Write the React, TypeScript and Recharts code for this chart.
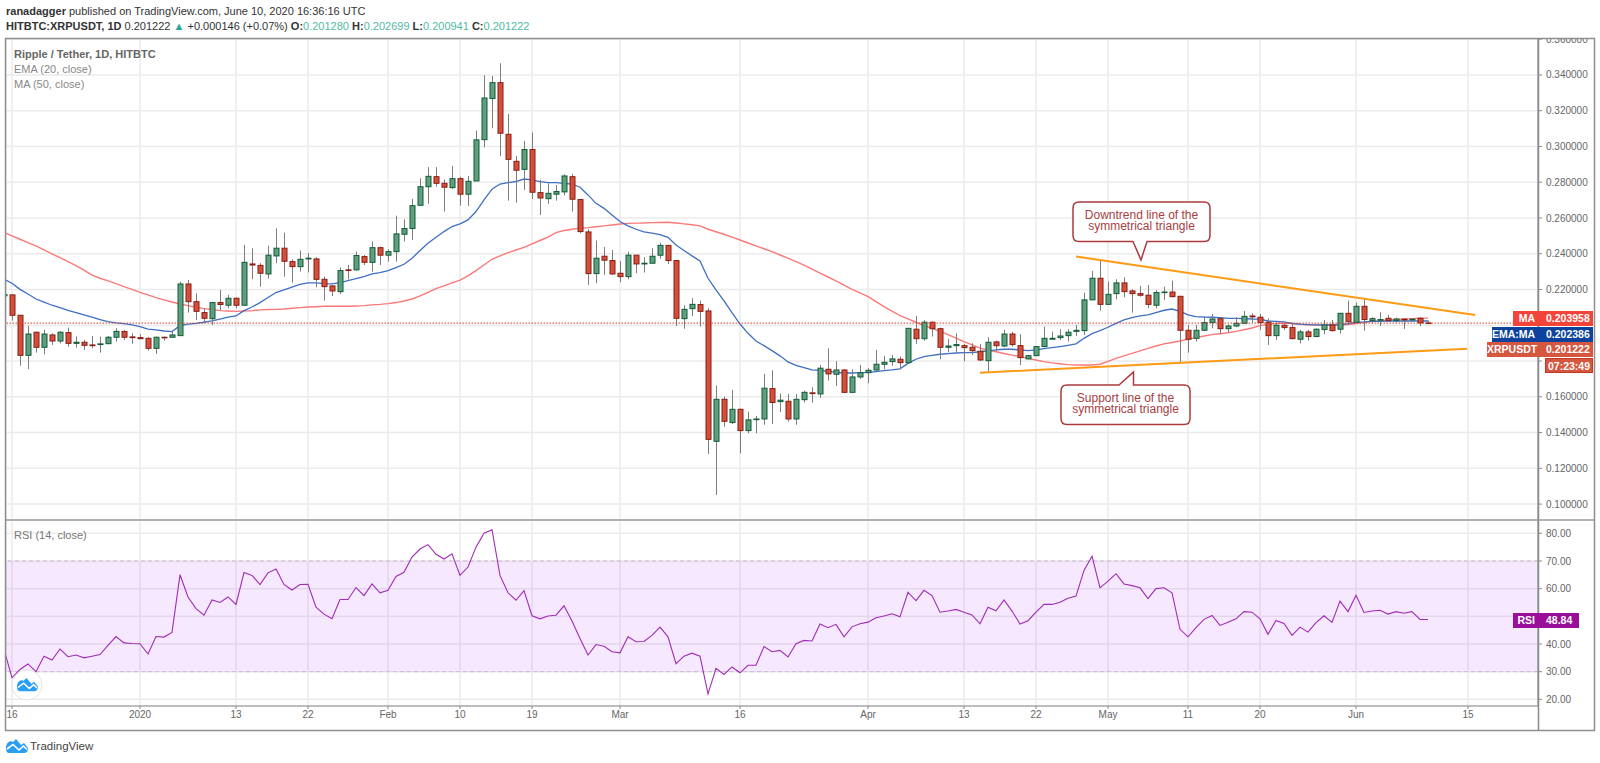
import {
  ComposedChart,
  Bar,
  Line,
  XAxis,
  YAxis,
  CartesianGrid,
  ReferenceLine,
  ReferenceArea,
} from 'recharts';

// day index: 0 = 16 Dec 2019, one row per daily candle, first row is the clipped 15 Dec one
const FIRST_DAY = -1;

const opens = [
  0.2165,
  0.2170, 0.2056, 0.1832, 0.1961, 0.1877, 0.1946, 0.1912, 0.1959, 0.1899, 0.1905,
  0.1890, 0.1892, 0.1897, 0.1933, 0.1965, 0.1935, 0.1931, 0.1927, 0.1871, 0.1933,
  0.1933, 0.1942, 0.2231, 0.2132, 0.2071, 0.2037, 0.2127, 0.2112, 0.2151, 0.2112,
  0.2343, 0.2335, 0.2287, 0.2388, 0.2431, 0.2356, 0.2328, 0.2371, 0.2371, 0.2257,
  0.2220, 0.2188, 0.2310, 0.2310, 0.2384, 0.2352, 0.2434, 0.2392, 0.2412, 0.2509,
  0.2541, 0.2671, 0.2775, 0.2831, 0.2794, 0.2770, 0.2820, 0.2733, 0.2807, 0.3038,
  0.3268, 0.3357, 0.3068, 0.2917, 0.2872, 0.2983, 0.2742, 0.2708, 0.2733, 0.2746,
  0.2831, 0.2703, 0.2522, 0.2289, 0.2386, 0.2362, 0.2291, 0.2272, 0.2392, 0.2343,
  0.2347, 0.2392, 0.2447, 0.2362, 0.2037, 0.2093, 0.2116, 0.2080, 0.1351, 0.1586,
  0.1456, 0.1530, 0.1411, 0.1472, 0.1476, 0.1646, 0.1573, 0.1575, 0.1476, 0.1584,
  0.1622, 0.1616, 0.1754, 0.1726, 0.1750, 0.1625, 0.1711, 0.1735, 0.1750, 0.1782,
  0.1797, 0.1810, 0.1791, 0.1978, 0.1925, 0.2017, 0.1981, 0.1877, 0.1886, 0.1886,
  0.1877, 0.1855, 0.1802, 0.1907, 0.1884, 0.1951, 0.1886, 0.1812, 0.1830, 0.1881,
  0.1922, 0.1931, 0.1942, 0.1966, 0.1970, 0.2142, 0.2263, 0.2117, 0.2177, 0.2237,
  0.2192, 0.2177, 0.2168, 0.2112, 0.2183, 0.2186, 0.2162, 0.1972, 0.1927, 0.1972,
  0.2015, 0.2037, 0.1981, 0.1996, 0.2011, 0.2052, 0.2045, 0.2017, 0.1942, 0.2000,
  0.1987, 0.1922, 0.1963, 0.1937, 0.1976, 0.2002, 0.1978, 0.2067, 0.2017, 0.2106,
  0.2026, 0.2028, 0.2039, 0.2026, 0.2034, 0.2030, 0.2039, 0.2013,
];

const highs = [
  0.2185,
  0.2172, 0.2056, 0.1996, 0.1965, 0.1974, 0.1955, 0.1968, 0.1987, 0.1937, 0.1918,
  0.1940, 0.1937, 0.1940, 0.1983, 0.1974, 0.1955, 0.1950, 0.1933, 0.1937, 0.1937,
  0.1965, 0.2244, 0.2253, 0.2179, 0.2095, 0.2132, 0.2198, 0.2170, 0.2155, 0.2449,
  0.2430, 0.2347, 0.2444, 0.2542, 0.2518, 0.2369, 0.2418, 0.2403, 0.2380, 0.2272,
  0.2225, 0.2323, 0.2337, 0.2412, 0.2393, 0.2468, 0.2440, 0.2425, 0.2613, 0.2593,
  0.2707, 0.2822, 0.2884, 0.2884, 0.2816, 0.2891, 0.2831, 0.2835, 0.3089, 0.3398,
  0.3394, 0.3465, 0.3182, 0.2947, 0.3031, 0.3078, 0.2813, 0.2794, 0.2785, 0.2844,
  0.2846, 0.2706, 0.2537, 0.2474, 0.2438, 0.2421, 0.2360, 0.2412, 0.2393, 0.2380,
  0.2431, 0.2462, 0.2449, 0.2362, 0.2112, 0.2151, 0.2138, 0.2095, 0.1663, 0.1601,
  0.1638, 0.1534, 0.1517, 0.1493, 0.1728, 0.1748, 0.1618, 0.1616, 0.1616, 0.1635,
  0.1653, 0.1778, 0.1871, 0.1799, 0.1754, 0.1754, 0.1778, 0.1760, 0.1862, 0.1829,
  0.1834, 0.1825, 0.1983, 0.2052, 0.2030, 0.2021, 0.1987, 0.1924, 0.1955, 0.1896,
  0.1899, 0.1896, 0.1933, 0.1914, 0.1974, 0.1963, 0.1950, 0.1834, 0.1884, 0.1992,
  0.1965, 0.1978, 0.1978, 0.2002, 0.2183, 0.2304, 0.2362, 0.2244, 0.2257, 0.2268,
  0.2201, 0.2220, 0.2225, 0.2197, 0.2216, 0.2250, 0.2162, 0.2002, 0.2002, 0.2048,
  0.2063, 0.2045, 0.2005, 0.2045, 0.2080, 0.2067, 0.2063, 0.2039, 0.2015, 0.2011,
  0.2015, 0.1974, 0.1974, 0.1983, 0.2030, 0.2030, 0.2067, 0.2138, 0.2127, 0.2147,
  0.2045, 0.2073, 0.2058, 0.2043, 0.2037, 0.2039, 0.2045, 0.2027,
];

const lows = [
  0.2150,
  0.2026, 0.1774, 0.1754, 0.1847, 0.1838, 0.1890, 0.1899, 0.1881, 0.1875, 0.1862,
  0.1871, 0.1847, 0.1896, 0.1909, 0.1918, 0.1896, 0.1922, 0.1858, 0.1840, 0.1914,
  0.1931, 0.1942, 0.2071, 0.2030, 0.2011, 0.2002, 0.2086, 0.2095, 0.2095, 0.2112,
  0.2257, 0.2216, 0.2261, 0.2347, 0.2272, 0.2239, 0.2300, 0.2295, 0.2213, 0.2138,
  0.2164, 0.2175, 0.2257, 0.2306, 0.2337, 0.2300, 0.2337, 0.2356, 0.2356, 0.2468,
  0.2477, 0.2669, 0.2679, 0.2775, 0.2636, 0.2761, 0.2669, 0.2667, 0.2807, 0.2995,
  0.3102, 0.2947, 0.2697, 0.2686, 0.2757, 0.2705, 0.2617, 0.2679, 0.2697, 0.2727,
  0.2636, 0.2514, 0.2226, 0.2235, 0.2282, 0.2282, 0.2241, 0.2257, 0.2291, 0.2295,
  0.2347, 0.2373, 0.2343, 0.1996, 0.1981, 0.2052, 0.1993, 0.1280, 0.1051, 0.1433,
  0.1448, 0.1284, 0.1396, 0.1396, 0.1444, 0.1448, 0.1515, 0.1461, 0.1444, 0.1568,
  0.1568, 0.1594, 0.1691, 0.1661, 0.1620, 0.1620, 0.1700, 0.1676, 0.1746, 0.1754,
  0.1774, 0.1754, 0.1788, 0.1896, 0.1914, 0.1937, 0.1810, 0.1849, 0.1847, 0.1799,
  0.1834, 0.1799, 0.1735, 0.1853, 0.1877, 0.1881, 0.1778, 0.1810, 0.1828, 0.1877,
  0.1922, 0.1918, 0.1909, 0.1940, 0.1946, 0.2142, 0.2082, 0.2115, 0.2145, 0.2156,
  0.2071, 0.2160, 0.2095, 0.2095, 0.2142, 0.2156, 0.1791, 0.1847, 0.1909, 0.1968,
  0.1983, 0.1950, 0.1959, 0.1989, 0.2009, 0.2015, 0.1974, 0.1890, 0.1918, 0.1974,
  0.1922, 0.1899, 0.1914, 0.1933, 0.1950, 0.1965, 0.1955, 0.2015, 0.2015, 0.1970,
  0.2011, 0.1996, 0.2019, 0.2015, 0.1980, 0.2022, 0.1996, 0.2009,
];

const closes = [
  0.2172,
  0.2056, 0.1832, 0.1951, 0.1877, 0.1951, 0.1912, 0.1961, 0.1899, 0.1905, 0.1888,
  0.1886, 0.1896, 0.1933, 0.1966, 0.1933, 0.1931, 0.1925, 0.1871, 0.1933, 0.1931,
  0.1946, 0.2231, 0.2132, 0.2078, 0.2039, 0.2127, 0.2116, 0.2151, 0.2112, 0.2352,
  0.2337, 0.2291, 0.2392, 0.2431, 0.2358, 0.2328, 0.2369, 0.2375, 0.2257, 0.2216,
  0.2192, 0.2306, 0.2306, 0.2390, 0.2352, 0.2434, 0.2392, 0.2412, 0.2511, 0.2541,
  0.2669, 0.2775, 0.2833, 0.2794, 0.2772, 0.2820, 0.2733, 0.2805, 0.3037, 0.3271,
  0.3357, 0.3074, 0.2928, 0.2867, 0.2983, 0.2744, 0.2712, 0.2738, 0.2748, 0.2835,
  0.2705, 0.2524, 0.2289, 0.2375, 0.2364, 0.2287, 0.2272, 0.2392, 0.2343, 0.2347,
  0.2386, 0.2447, 0.2362, 0.2039, 0.2089, 0.2117, 0.2078, 0.1362, 0.1586, 0.1463,
  0.1530, 0.1411, 0.1471, 0.1476, 0.1648, 0.1568, 0.1581, 0.1476, 0.1586, 0.1625,
  0.1618, 0.1760, 0.1728, 0.1750, 0.1625, 0.1711, 0.1735, 0.1748, 0.1782, 0.1793,
  0.1812, 0.1791, 0.1983, 0.1925, 0.2017, 0.1981, 0.1877, 0.1884, 0.1892, 0.1875,
  0.1858, 0.1806, 0.1905, 0.1886, 0.1951, 0.1892, 0.1819, 0.1830, 0.1881, 0.1927,
  0.1927, 0.1940, 0.1961, 0.1972, 0.2142, 0.2263, 0.2117, 0.2173, 0.2237, 0.2188,
  0.2177, 0.2168, 0.2117, 0.2183, 0.2186, 0.2160, 0.1972, 0.1922, 0.1972, 0.2015,
  0.2035, 0.1981, 0.1996, 0.2011, 0.2050, 0.2047, 0.2015, 0.1942, 0.2000, 0.1987,
  0.1925, 0.1963, 0.1937, 0.1978, 0.2002, 0.1970, 0.2067, 0.2020, 0.2106, 0.2032,
  0.2037, 0.2032, 0.2026, 0.2035, 0.2030, 0.2034, 0.2013, 0.2012,
];

const ema20 = [
  0.2257,
  0.2235, 0.2201, 0.2175, 0.2147, 0.2129, 0.2112, 0.2099, 0.2084, 0.2071, 0.2058,
  0.2045, 0.2032, 0.2020, 0.2013, 0.2009, 0.2002, 0.1993, 0.1978, 0.1974, 0.1968,
  0.1965, 0.1998, 0.2007, 0.2011, 0.2017, 0.2024, 0.2034, 0.2045, 0.2052, 0.2082,
  0.2102, 0.2127, 0.2155, 0.2183, 0.2198, 0.2213, 0.2229, 0.2237, 0.2237, 0.2233,
  0.2231, 0.2239, 0.2250, 0.2261, 0.2272, 0.2287, 0.2295, 0.2306, 0.2323, 0.2341,
  0.2375, 0.2418, 0.2459, 0.2492, 0.2524, 0.2552, 0.2567, 0.2589, 0.2636, 0.2701,
  0.2761, 0.2790, 0.2798, 0.2804, 0.2818, 0.2813, 0.2803, 0.2798, 0.2798, 0.2794,
  0.2790, 0.2772, 0.2729, 0.2682, 0.2654, 0.2617, 0.2580, 0.2556, 0.2537, 0.2522,
  0.2515, 0.2507, 0.2492, 0.2449, 0.2418, 0.2388, 0.2360, 0.2263, 0.2198, 0.2136,
  0.2071, 0.2007, 0.1955, 0.1912, 0.1886, 0.1858, 0.1829, 0.1795, 0.1776, 0.1763,
  0.1750, 0.1748, 0.1743, 0.1737, 0.1733, 0.1733, 0.1735, 0.1737, 0.1741, 0.1746,
  0.1750, 0.1756, 0.1787, 0.1810, 0.1825, 0.1832, 0.1838, 0.1842, 0.1845, 0.1847,
  0.1847, 0.1852, 0.1857, 0.1862, 0.1866, 0.1866, 0.1862, 0.1858, 0.1862, 0.1869,
  0.1875, 0.1881, 0.1888, 0.1896, 0.1927, 0.1953, 0.1970, 0.1989, 0.2011, 0.2030,
  0.2043, 0.2052, 0.2058, 0.2071, 0.2084, 0.2091, 0.2078, 0.2058, 0.2048, 0.2046,
  0.2045, 0.2043, 0.2039, 0.2039, 0.2037, 0.2035, 0.2034, 0.2024, 0.2022, 0.2019,
  0.2011, 0.2007, 0.2004, 0.2002, 0.2002, 0.2002, 0.2004, 0.2009, 0.2017, 0.2019,
  0.2022, 0.2022, 0.2024, 0.2024, 0.2024, 0.2024, 0.2024, 0.2024,
];

const ma50 = [
  0.2520,
  0.2500, 0.2481, 0.2462, 0.2444, 0.2421, 0.2399, 0.2378, 0.2356, 0.2334, 0.2308,
  0.2281, 0.2263, 0.2248, 0.2233, 0.2216, 0.2201, 0.2184, 0.2170, 0.2155, 0.2142,
  0.2130, 0.2119, 0.2110, 0.2101, 0.2093, 0.2088, 0.2082, 0.2080, 0.2078, 0.2080,
  0.2082, 0.2086, 0.2088, 0.2089, 0.2091, 0.2095, 0.2099, 0.2102, 0.2104, 0.2106,
  0.2106, 0.2106, 0.2106, 0.2108, 0.2110, 0.2114, 0.2117, 0.2121, 0.2127, 0.2136,
  0.2147, 0.2164, 0.2184, 0.2205, 0.2220, 0.2237, 0.2253, 0.2276, 0.2306, 0.2337,
  0.2369, 0.2388, 0.2406, 0.2421, 0.2436, 0.2455, 0.2474, 0.2493, 0.2518, 0.2530,
  0.2537, 0.2543, 0.2546, 0.2551, 0.2556, 0.2561, 0.2566, 0.2570, 0.2571, 0.2572,
  0.2574, 0.2575, 0.2576, 0.2572, 0.2567, 0.2562, 0.2556, 0.2537, 0.2523, 0.2509,
  0.2493, 0.2477, 0.2460, 0.2444, 0.2428, 0.2412, 0.2393, 0.2375, 0.2356, 0.2337,
  0.2314, 0.2291, 0.2270, 0.2248, 0.2225, 0.2201, 0.2181, 0.2160, 0.2132, 0.2104,
  0.2079, 0.2054, 0.2036, 0.2017, 0.2000, 0.1983, 0.1966, 0.1948, 0.1928, 0.1908,
  0.1890, 0.1872, 0.1862, 0.1852, 0.1842, 0.1833, 0.1825, 0.1815, 0.1806, 0.1797,
  0.1790, 0.1785, 0.1780, 0.1778, 0.1778, 0.1778, 0.1782, 0.1798, 0.1815, 0.1829,
  0.1843, 0.1857, 0.1871, 0.1884, 0.1896, 0.1904, 0.1912, 0.1922, 0.1931, 0.1940,
  0.1948, 0.1953, 0.1958, 0.1966, 0.1975, 0.1985, 0.1998, 0.2005, 0.2010, 0.2012,
  0.2010, 0.2005, 0.2003, 0.2001, 0.2000, 0.2000, 0.2001, 0.2004, 0.2010, 0.2016,
  0.2022, 0.2026, 0.2030, 0.2033, 0.2035, 0.2037, 0.2039, 0.2040,
];

const rsi14 = [
  38.0,
  27.8, 30.8, 32.8, 30.0, 35.6, 34.2, 38.2, 35.4, 36.0, 35.0,
  35.6, 36.2, 39.5, 42.7, 40.4, 40.2, 40.1, 36.4, 42.7, 42.5,
  44.2, 65.0, 57.0, 52.8, 50.4, 55.9, 55.0, 57.0, 54.3, 65.8,
  64.8, 61.5, 65.7, 67.1, 61.5, 59.5, 61.5, 61.6, 53.3, 50.8,
  49.1, 56.1, 56.1, 60.4, 57.5, 61.7, 58.5, 59.4, 64.4, 65.9,
  71.4, 74.3, 75.9, 72.4, 70.7, 72.6, 64.8, 67.8, 75.0, 80.0,
  81.3, 64.8, 58.5, 55.8, 59.3, 50.2, 49.1, 50.1, 50.4, 53.8,
  48.3, 42.0, 36.0, 39.8, 39.2, 37.2, 36.8, 42.6, 40.8, 40.9,
  43.1, 46.1, 42.6, 32.9, 35.6, 36.7, 35.6, 22.0, 31.2, 29.0,
  31.7, 29.6, 32.3, 32.3, 39.1, 37.2, 37.7, 35.3, 40.1, 41.3,
  41.1, 47.2, 45.9, 47.1, 42.6, 46.2, 47.3, 47.9, 49.5, 50.1,
  50.9, 49.8, 58.7, 55.7, 59.4, 57.5, 51.5, 51.9, 52.5, 51.5,
  50.5, 47.3, 53.3, 52.0, 55.9, 51.9, 47.2, 48.4, 51.5, 54.3,
  54.3, 55.1, 56.5, 57.3, 66.6, 71.7, 60.3, 62.7, 65.4, 61.7,
  61.1, 60.3, 56.4, 60.0, 60.3, 58.5, 45.3, 42.6, 45.9, 48.9,
  50.3, 46.7, 47.9, 49.1, 51.7, 51.5, 49.1, 43.5, 48.5, 47.4,
  43.1, 46.1, 44.3, 47.7, 50.2, 47.8, 55.5, 51.7, 57.6, 51.4,
  51.9, 52.2, 50.8, 51.7, 51.1, 51.7, 48.9, 48.84,
];

const xTickDays = [0, 16, 28, 37, 47, 56, 65, 76, 91, 107, 119, 128, 137, 147, 156, 168, 182];
const xTickLabels = ['16', '2020', '13', '22', 'Feb', '10', '19', 'Mar', '16', 'Apr', '13', '22', 'May', '11', '20', 'Jun', '15'];
const priceTicks = [0.1, 0.12, 0.14, 0.16, 0.18, 0.2, 0.22, 0.24, 0.26, 0.28, 0.3, 0.32, 0.34, 0.36];
const rsiTicks = [20, 30, 40, 50, 60, 70, 80];
// these tick labels sit under the last-value badges in the original
const hiddenPriceLabels = [0.18, 0.2];
const hiddenRsiLabels = [50];

const lastPrice = 0.201222;
const downtrendLine = [{ x: 133, y: 0.2384 }, { x: 182.9, y: 0.2058 }];
const supportLine = [{ x: 121, y: 0.1735 }, { x: 181.9, y: 0.1869 }];

const rows = opens.map((open, i) => ({
  day: i + FIRST_DAY,
  open,
  high: highs[i],
  low: lows[i],
  close: closes[i],
  range: [lows[i], highs[i]],
  ema: ema20[i],
  ma: ma50[i],
  rsi: rsi14[i],
}));

const FONT = '"Liberation Sans", Arial, sans-serif';
const X_DOMAIN: [number, number] = [-0.75, 190.75];
const GRID = '#ebebeb';
const AXIS = '#8a8a8a';

function Candle(props: any) {
  const { x, y, width, height, payload } = props;
  const { open, high, low, close } = payload;
  const unit = height / (high - low);
  const cx = Math.round(x + width / 2) + 0.5;
  const yTop = y + (high - Math.max(open, close)) * unit;
  const yBottom = y + (high - Math.min(open, close)) * unit;
  const up = close >= open;
  return (
    <g>
      <line x1={cx} x2={cx} y1={y} y2={y + height} stroke="#7d7d7d" strokeWidth={1} />
      <rect
        x={cx - 2.5}
        y={yTop}
        width={5}
        height={Math.max(yBottom - yTop, 0.6)}
        fill={up ? '#5f9e7e' : '#d44f3b'}
        stroke={up ? '#0f5c36' : '#8a1c12'}
        strokeWidth={1}
      />
    </g>
  );
}

function Badge({ left, top, right, label, value, bg, border }: any) {
  const height = 15;
  return (
    <div
      style={{
        position: 'absolute',
        left,
        top,
        width: right - left,
        height,
        background: bg,
        border: border ? `1px solid ${border}` : undefined,
        boxSizing: 'border-box',
        color: '#fff',
        fontSize: 10.5,
        fontWeight: 700,
        lineHeight: `${height}px`,
        display: 'flex',
        whiteSpace: 'nowrap',
      }}
    >
      {label ? (
        <span style={{ width: 1539 - left, textAlign: 'right', paddingRight: 4, boxSizing: 'border-box' }}>{label}</span>
      ) : null}
      <span style={{ flex: 1, paddingLeft: label ? 7 : 0, textAlign: label ? 'left' : 'center' }}>{value}</span>
    </div>
  );
}

function Logo({ x, y, scale }: { x: number; y: number; scale: number }) {
  return (
    <g transform={`translate(${x} ${y}) scale(${scale})`}>
      <path
        d="M0 9 C0 4 4 1 7 3 L10 0 L15 6 L18 4 L22 9 C22 13 20 14 18 14 L3 14 C1 14 0 12 0 9 Z"
        fill="#2a9df4"
      />
      <path d="M1 10 L7 5.5 L13 11 L17.5 7 L21 10.5" fill="none" stroke="#fff" strokeWidth={1.6} />
    </g>
  );
}

export default function App() {
  return (
    <div
      style={{
        position: 'absolute',
        left: 0,
        top: 0,
        width: 1600,
        height: 763,
        background: '#fff',
        overflow: 'hidden',
        fontFamily: FONT,
      }}
    >
      {/* price pane */}
      <div style={{ position: 'absolute', left: 0, top: 0 }}>
        <ComposedChart
          width={1600}
          height={520}
          data={rows}
          margin={{ top: 39, right: 6, bottom: 0, left: 6 }}
        >
          <CartesianGrid stroke={GRID} strokeWidth={1.5} />
          <XAxis
            dataKey="day"
            type="number"
            domain={X_DOMAIN}
            ticks={xTickDays}
            allowDataOverflow
            hide
          />
          <YAxis
            orientation="right"
            width={56}
            type="number"
            domain={[0.0911, 0.3601]}
            ticks={priceTicks}
            allowDataOverflow
            tickFormatter={(v: number) => (hiddenPriceLabels.includes(v) ? '' : v.toFixed(6))}
            tick={{ fontSize: 10, fill: '#666', fontFamily: FONT, dx: 2 }}
            tickSize={4}
            stroke={AXIS}
            interval={0}
          />
          <Line dataKey="ma" stroke="#fb7a78" strokeWidth={1.4} dot={false} isAnimationActive={false} zIndex={200} />
          <Line dataKey="ema" stroke="#3f6fc2" strokeWidth={1.3} dot={false} isAnimationActive={false} zIndex={200} />
          <ReferenceLine y={lastPrice} stroke="#d5392b" strokeDasharray="1.5 1.5" strokeWidth={1} />
          <Bar dataKey="range" barSize={6} isAnimationActive={false} shape={<Candle />} />
          <ReferenceLine segment={downtrendLine} stroke="#ff9a14" strokeWidth={2} zIndex={500} />
          <ReferenceLine segment={supportLine} stroke="#ff9a14" strokeWidth={2} zIndex={500} />
        </ComposedChart>
      </div>

      {/* RSI pane */}
      <div style={{ position: 'absolute', left: 0, top: 520 }}>
        <ComposedChart
          width={1600}
          height={210}
          data={rows}
          margin={{ top: 0, right: 6, bottom: 0, left: 6 }}
        >
          <CartesianGrid stroke={GRID} strokeWidth={1.5} />
          <XAxis
            dataKey="day"
            type="number"
            domain={X_DOMAIN}
            ticks={xTickDays}
            allowDataOverflow
            height={24}
            interval={0}
            tickFormatter={(v: number) => xTickLabels[xTickDays.indexOf(v)]}
            tick={{ fontSize: 10, fill: '#666', fontFamily: FONT }}
            tickSize={3}
            stroke={AXIS}
          />
          <YAxis
            orientation="right"
            width={56}
            type="number"
            domain={[17.6, 84.8]}
            ticks={rsiTicks}
            allowDataOverflow
            tickFormatter={(v: number) => (hiddenRsiLabels.includes(v) ? '' : v.toFixed(2))}
            tick={{ fontSize: 10, fill: '#666', fontFamily: FONT, dx: 2 }}
            tickSize={4}
            stroke={AXIS}
            interval={0}
          />
          <ReferenceArea y1={30} y2={70} fill="#9b1cff" fillOpacity={0.1} stroke="none" />
          <ReferenceLine y={70} stroke="#c9bccb" strokeDasharray="4 3" />
          <ReferenceLine y={30} stroke="#c9bccb" strokeDasharray="4 3" />
          <Line dataKey="rsi" stroke="#a12cb5" strokeWidth={1.1} dot={false} isAnimationActive={false} />
        </ComposedChart>
      </div>

      {/* header, clips the top price label like the original frame */}
      <div
        style={{
          position: 'absolute',
          left: 0,
          top: 0,
          width: 1600,
          height: 38,
          background: '#fff',
          color: '#333',
          fontSize: 11,
          whiteSpace: 'nowrap',
        }}
      >
        <div style={{ position: 'absolute', left: 6, top: 5 }}>
          <b>ranadagger</b> published on TradingView.com, June 10, 2020 16:36:16 UTC
        </div>
        <div style={{ position: 'absolute', left: 6, top: 20 }}>
          <span style={{ fontWeight: 700 }}>HITBTC:XRPUSDT, 1D</span> 0.201222{' '}
          <span style={{ color: '#26a69a' }}>▲</span> +0.000146 (+0.07%){' '}
          <b>O:</b><span style={{ color: '#53b9a5' }}>0.201280</span>{' '}
          <b>H:</b><span style={{ color: '#53b9a5' }}>0.202699</span>{' '}
          <b>L:</b><span style={{ color: '#53b9a5' }}>0.200941</span>{' '}
          <b>C:</b><span style={{ color: '#53b9a5' }}>0.201222</span>
        </div>
      </div>

      {/* pane legends */}
      <div style={{ position: 'absolute', left: 14, top: 48, fontSize: 11, fontWeight: 700, color: '#666' }}>
        Ripple / Tether, 1D, HITBTC
      </div>
      <div style={{ position: 'absolute', left: 14, top: 63, fontSize: 11, color: '#888' }}>EMA (20, close)</div>
      <div style={{ position: 'absolute', left: 14, top: 78, fontSize: 11, color: '#888' }}>MA (50, close)</div>
      <div style={{ position: 'absolute', left: 14, top: 529, fontSize: 11, color: '#777' }}>RSI (14, close)</div>

      {/* frame, callouts and logos */}
      <svg width={1600} height={763} style={{ position: 'absolute', left: 0, top: 0, pointerEvents: 'none' }}>
        <rect x={5.5} y={38.5} width={1589} height={692} fill="none" stroke="#8f8f8f" strokeWidth={1.5} />
        <line x1={6} x2={1594} y1={520} y2={520} stroke="#9a9a9a" strokeWidth={1.5} />
        <line x1={1538.5} x2={1538.5} y1={38} y2={730} stroke={AXIS} strokeWidth={1.5} />

        <path
          d="M1079 202 H1204 Q1210 202 1210 208 V235.5 Q1210 241.5 1204 241.5 H1147 L1141 260 L1133 241.5 H1079 Q1073 241.5 1073 235.5 V208 Q1073 202 1079 202 Z"
          fill="#fff"
          stroke="#ab3a3c"
          strokeWidth={1.5}
        />
        <text x={1141.5} y={219} textAnchor="middle" fontSize={12} fill="#a8403f" fontFamily={FONT}>Downtrend line of the</text>
        <text x={1141.5} y={230} textAnchor="middle" fontSize={12} fill="#a8403f" fontFamily={FONT}>symmetrical triangle</text>

        <path
          d="M1067 385 H1119 L1133.5 372 V385 H1184 Q1190 385 1190 391 V418.5 Q1190 424.5 1184 424.5 H1067 Q1061 424.5 1061 418.5 V391 Q1061 385 1067 385 Z"
          fill="#fff"
          stroke="#ab3a3c"
          strokeWidth={1.5}
        />
        <text x={1125.5} y={402} textAnchor="middle" fontSize={12} fill="#a8403f" fontFamily={FONT}>Support line of the</text>
        <text x={1125.5} y={413} textAnchor="middle" fontSize={12} fill="#a8403f" fontFamily={FONT}>symmetrical triangle</text>

        <circle cx={27} cy={685} r={15} fill="#fff" stroke="#e4e4e4" />
        <Logo x={17} y={678} scale={0.95} />
        <Logo x={6} y={739} scale={1} />
        <text x={30} y={750} fontSize={11.5} fill="#444" fontFamily={FONT}>TradingView</text>
      </svg>

      {/* last value labels */}
      <Badge left={1513} top={311} right={1593} label="MA" value="0.203958" bg="#f3443a" />
      <Badge left={1492} top={327} right={1593} label="EMA:MA" value="0.202386" bg="#0d439c" />
      <Badge left={1487} top={342} right={1593} label="XRPUSDT" value="0.201222" bg="#d5573f" />
      <Badge left={1545} top={358} right={1593} value="07:23:49" bg="#d5573f" border="#c23a26" />
      <Badge left={1513} top={613} right={1579} label="RSI" value="48.84" bg="#990f99" />
    </div>
  );
}
